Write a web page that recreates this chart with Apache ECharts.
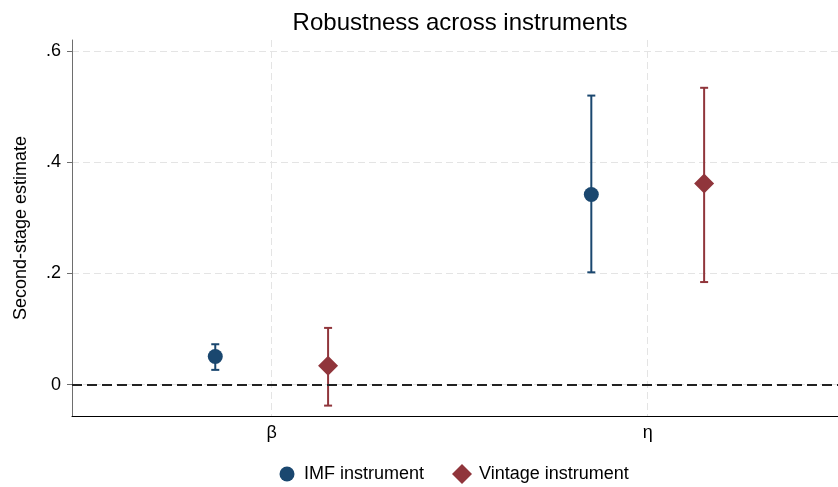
<!DOCTYPE html>
<html>
<head>
<meta charset="utf-8">
<script src="https://cdn.jsdelivr.net/npm/echarts@6/dist/echarts.min.js"></script>
<style>
  html, body { margin: 0; padding: 0; background: #fff; }
  #chart { width: 838px; height: 487px; }
</style>
</head>
<body>
<div id="chart"></div>
<script>
// Parameters shown along the horizontal axis
const categories = ['β', 'η'];

// Second-stage estimates with 95% confidence bounds
const imfEst = [0.0505, 0.342];
const imfLow = [0.0265, 0.202];
const imfHigh = [0.0726, 0.520];

const vintageEst = [0.0337, 0.362];
const vintageLow = [-0.0378, 0.1845];
const vintageHigh = [0.102, 0.534];

// Vertical axis ticks and their labels
const yTicks = [0, 0.2, 0.4, 0.6];
const yTickLabels = ['0', '.2', '.4', '.6'];

const seriesNames = ['IMF instrument', 'Vintage instrument'];

const NAVY = '#1a476f';
const MAROON = '#90353b';
const FONT = 'Liberation Sans, Arial, Helvetica, sans-serif';

// Category i sits at x = i + 1; each instrument is nudged left or right
const catPos = categories.map((_, i) => i + 1);
const dodge = 0.15;

function points(est, shift) {
  return est.map((v, i) => [catPos[i] + shift, v]);
}
function bars(lo, hi, shift) {
  return lo.map((v, i) => [catPos[i] + shift, v, hi[i]]);
}

function errorBar(color) {
  return function (params, api) {
    const x = api.value(0);
    const top = api.coord([x, api.value(2)]);
    const bot = api.coord([x, api.value(1)]);
    const cap = 4;
    const style = { stroke: color, lineWidth: 2 };
    return {
      type: 'group',
      children: [
        { type: 'line', shape: { x1: top[0], y1: top[1], x2: bot[0], y2: bot[1] }, style },
        { type: 'line', shape: { x1: top[0] - cap, y1: top[1], x2: top[0] + cap, y2: top[1] }, style },
        { type: 'line', shape: { x1: bot[0] - cap, y1: bot[1], x2: bot[0] + cap, y2: bot[1] }, style }
      ]
    };
  };
}

const chart = echarts.init(document.getElementById('chart'), null, { renderer: 'canvas' });

chart.setOption({
  animation: false,
  backgroundColor: '#ffffff',
  title: {
    text: 'Robustness across instruments',
    left: 455,
    top: 6,
    textAlign: 'center',
    textStyle: { fontFamily: FONT, fontSize: 24, fontWeight: 'normal', color: '#000' }
  },
  legend: {
    left: 277,
    top: 464,
    padding: 0,
    itemWidth: 20,
    itemHeight: 20,
    itemGap: 28,
    textStyle: { fontFamily: FONT, fontSize: 18, color: '#000', padding: [0, 0, 0, 2] },
    data: [
      {
        name: seriesNames[0],
        icon: 'path://M0,0M20,20M2.5,10A7.5,7.5 0 1 1 17.5,10A7.5,7.5 0 1 1 2.5,10Z',
        itemStyle: { color: NAVY }
      },
      { name: seriesNames[1], icon: 'diamond', itemStyle: { color: MAROON } }
    ]
  },
  grid: { left: 72, right: 0, top: 40, bottom: 71, containLabel: false },
  xAxis: {
    type: 'value',
    min: 0.469,
    max: 2.506,
    axisLine: { show: true, onZero: false, lineStyle: { color: '#000', width: 1 } },
    axisTick: { show: false, customValues: catPos },
    axisLabel: {
      customValues: catPos,
      margin: 8,
      fontFamily: FONT,
      fontSize: 18,
      color: '#000',
      formatter: (v) => categories[Math.round(v) - 1]
    },
    splitLine: { show: true, lineStyle: { color: '#e4e4e4', type: [7, 4], width: 1 } }
  },
  yAxis: {
    type: 'value',
    min: -0.0565,
    max: 0.62,
    name: 'Second-stage estimate',
    nameLocation: 'middle',
    nameRotate: 90,
    nameGap: 42,
    nameTextStyle: { fontFamily: FONT, fontSize: 18, color: '#000' },
    axisLine: { show: true, onZero: false, lineStyle: { color: '#6e6e6e', width: 1 } },
    axisTick: { show: true, length: 5, customValues: yTicks, lineStyle: { color: '#6e6e6e' } },
    axisLabel: {
      customValues: yTicks,
      margin: 11,
      fontFamily: FONT,
      fontSize: 18,
      color: '#000',
      formatter: (v) => yTickLabels[yTicks.findIndex((t) => Math.abs(t - v) < 1e-9)]
    },
    splitLine: { show: true, lineStyle: { color: '#e4e4e4', type: [7, 4], width: 1 } }
  },
  series: [
    {
      name: seriesNames[0],
      type: 'custom',
      renderItem: errorBar(NAVY),
      itemStyle: { color: NAVY },
      data: bars(imfLow, imfHigh, -dodge),
      encode: { x: 0, y: [1, 2] },
      silent: true,
      z: 2,
      markLine: {
        silent: true,
        symbol: 'none',
        label: { show: false },
        lineStyle: { color: '#222', type: [10, 5], width: 2 },
        data: [{ yAxis: 0 }]
      }
    },
    {
      name: seriesNames[1],
      type: 'custom',
      renderItem: errorBar(MAROON),
      itemStyle: { color: MAROON },
      data: bars(vintageLow, vintageHigh, dodge),
      encode: { x: 0, y: [1, 2] },
      silent: true,
      z: 2
    },
    {
      name: seriesNames[0],
      type: 'scatter',
      symbol: 'circle',
      symbolSize: 15,
      itemStyle: { color: NAVY, opacity: 1 },
      data: points(imfEst, -dodge),
      z: 3
    },
    {
      name: seriesNames[1],
      type: 'scatter',
      symbol: 'diamond',
      symbolSize: 20,
      itemStyle: { color: MAROON, opacity: 1 },
      data: points(vintageEst, dodge),
      z: 3
    }
  ]
});
</script>
</body>
</html>
